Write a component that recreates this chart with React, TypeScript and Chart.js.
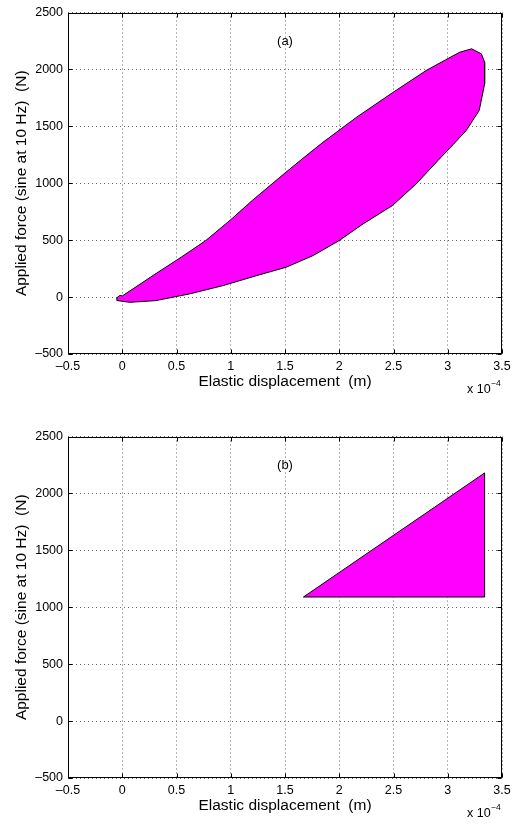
import React, { useEffect, useRef } from "react";
import { Chart, registerables } from "chart.js";

Chart.register(...registerables);

// Elastic displacement in units of 1e-4 m, applied force in N
const loopX = [
  0.0, 0.3, 0.55, 0.77, 1.0, 1.2, 1.4, 1.5, 1.66, 1.85, 2.16, 2.49, 2.8, 2.98, 3.11, 3.22,
  3.31, 3.34, 3.34, 3.29, 3.17, 3.05, 2.91, 2.71, 2.49, 2.22, 2.0, 1.76, 1.51, 1.24, 0.93, 0.62, 0.31,
  0.07, -0.05, -0.05, -0.02, 0.0,
];
const loopY = [
  10, 200, 355, 497, 680, 850, 1010, 1090, 1215, 1360, 1580, 1795, 1990, 2084, 2151, 2181,
  2137, 2063, 1873, 1639, 1463, 1340, 1200, 995, 804, 643, 497, 365, 262, 189, 101, 28, -31,
  -46, -30, -5, 15, 10,
];
const triX = [1.67, 3.34, 3.34, 1.67];
const triY = [1090, 1090, 2180, 1090];

const xTicks = [-0.5, 0, 0.5, 1, 1.5, 2, 2.5, 3, 3.5];
const yTicks = [-500, 0, 500, 1000, 1500, 2000, 2500];
const panelLabels = ["(a)", "(b)"];
const xTitle = "Elastic displacement  (m)";
const yTitle = "Applied force (sine at 10 Hz)  (N)";
const exponentBase = "x 10";
const exponentPower = "\u22124";

const FONT = "'Liberation Sans', Arial, Helvetica, sans-serif";
const W = 517;
const H = 400;

function fmt(v: number): string {
  const r = Math.round(v * 10) / 10;
  return r < 0 ? "\u2013" + String(Math.abs(r)) : String(r);
}

function makeConfig(xs: number[], ys: number[], label: string): any {
  const framePlugin = {
    id: "frame",
    afterDraw(chart: any) {
      const { ctx, chartArea: a, scales } = chart;
      ctx.save();
      ctx.strokeStyle = "#000";
      ctx.lineWidth = 1;
      const L = Math.round(a.left) + 0.5;
      const R = Math.round(a.right) - 0.5;
      const T = Math.round(a.top) + 0.5;
      const B = Math.round(a.bottom) - 0.5;
      ctx.strokeRect(L, T, R - L, B - T);
      const tl = 4;
      ctx.beginPath();
      for (const v of xTicks) {
        const p = Math.round(scales.x.getPixelForValue(v)) + 0.5;
        ctx.moveTo(p, B);
        ctx.lineTo(p, B - tl);
        ctx.moveTo(p, T);
        ctx.lineTo(p, T + tl);
      }
      for (const v of yTicks) {
        const p = Math.round(scales.y.getPixelForValue(v)) + 0.5;
        ctx.moveTo(L, p);
        ctx.lineTo(L + tl, p);
        ctx.moveTo(R, p);
        ctx.lineTo(R - tl, p);
      }
      ctx.stroke();

      ctx.fillStyle = "#000";
      ctx.textAlign = "center";
      ctx.textBaseline = "middle";
      ctx.font = `13px ${FONT}`;
      ctx.fillText(label, scales.x.getPixelForValue(1.5), scales.y.getPixelForValue(2250));

      ctx.textAlign = "left";
      ctx.textBaseline = "alphabetic";
      ctx.font = `12.5px ${FONT}`;
      const bx = 467;
      const by = 393;
      ctx.fillText(exponentBase, bx, by);
      const w = ctx.measureText(exponentBase).width;
      ctx.font = `8.5px ${FONT}`;
      ctx.fillText(exponentPower, bx + w + 0.5, by - 7);
      ctx.restore();
    },
  };

  const tickFont = { family: FONT, size: 12.5 };
  const titleFont = { family: FONT, size: 15.5 };

  return {
    type: "scatter",
    data: {
      datasets: [
        {
          data: xs.map((x, i) => ({ x, y: ys[i] })),
          showLine: true,
          fill: "shape",
          backgroundColor: "#ff00ff",
          borderColor: "#000",
          borderWidth: 1,
          pointRadius: 0,
          tension: 0,
        },
      ],
    },
    options: {
      animation: false,
      responsive: false,
      maintainAspectRatio: false,
      layout: { padding: { top: 12, right: 15, left: 0, bottom: 0 } },
      plugins: { legend: { display: false }, tooltip: { enabled: false } },
      scales: {
        x: {
          type: "linear",
          min: -0.5,
          max: 3.5,
          afterBuildTicks: (s: any) => {
            s.ticks = xTicks.map((v) => ({ value: v }));
          },
          afterFit: (s: any) => {
            s.height = 46;
          },
          grid: { color: "#666", lineWidth: 1, drawTicks: false },
          border: { display: false, dash: [1, 3] },
          ticks: {
            font: tickFont,
            color: "#000",
            padding: 5,
            maxRotation: 0,
            autoSkip: false,
            callback: (v: any) => fmt(Number(v)),
          },
          title: {
            display: true,
            text: xTitle,
            font: titleFont,
            color: "#000",
            padding: { top: 0, bottom: 9 },
          },
        },
        y: {
          type: "linear",
          min: -500,
          max: 2500,
          afterBuildTicks: (s: any) => {
            s.ticks = yTicks.map((v) => ({ value: v }));
          },
          afterFit: (s: any) => {
            s.width = 68;
          },
          grid: { color: "#666", lineWidth: 1, drawTicks: false },
          border: { display: false, dash: [1, 3] },
          ticks: {
            font: tickFont,
            color: "#000",
            padding: 5,
            autoSkip: false,
            callback: (v: any) => fmt(Number(v)),
          },
          title: {
            display: true,
            text: yTitle,
            font: titleFont,
            color: "#000",
            padding: { top: 12, bottom: 0 },
          },
        },
      },
    },
    plugins: [framePlugin],
  };
}

function Panel({ xs, ys, label, top }: { xs: number[]; ys: number[]; label: string; top: number }) {
  const ref = useRef<HTMLCanvasElement | null>(null);
  useEffect(() => {
    if (!ref.current) return;
    const chart = new Chart(ref.current, makeConfig(xs, ys, label));
    return () => chart.destroy();
  }, [xs, ys, label]);
  return (
    <canvas
      ref={ref}
      width={W}
      height={H}
      style={{ position: "absolute", left: 0, top, width: W, height: H, display: "block" }}
    />
  );
}

export default function App() {
  return (
    <div style={{ position: "absolute", left: 0, top: 0, width: W, height: 825, background: "#fff" }}>
      <Panel xs={loopX} ys={loopY} label={panelLabels[0]} top={0} />
      <Panel xs={triX} ys={triY} label={panelLabels[1]} top={424} />
    </div>
  );
}
